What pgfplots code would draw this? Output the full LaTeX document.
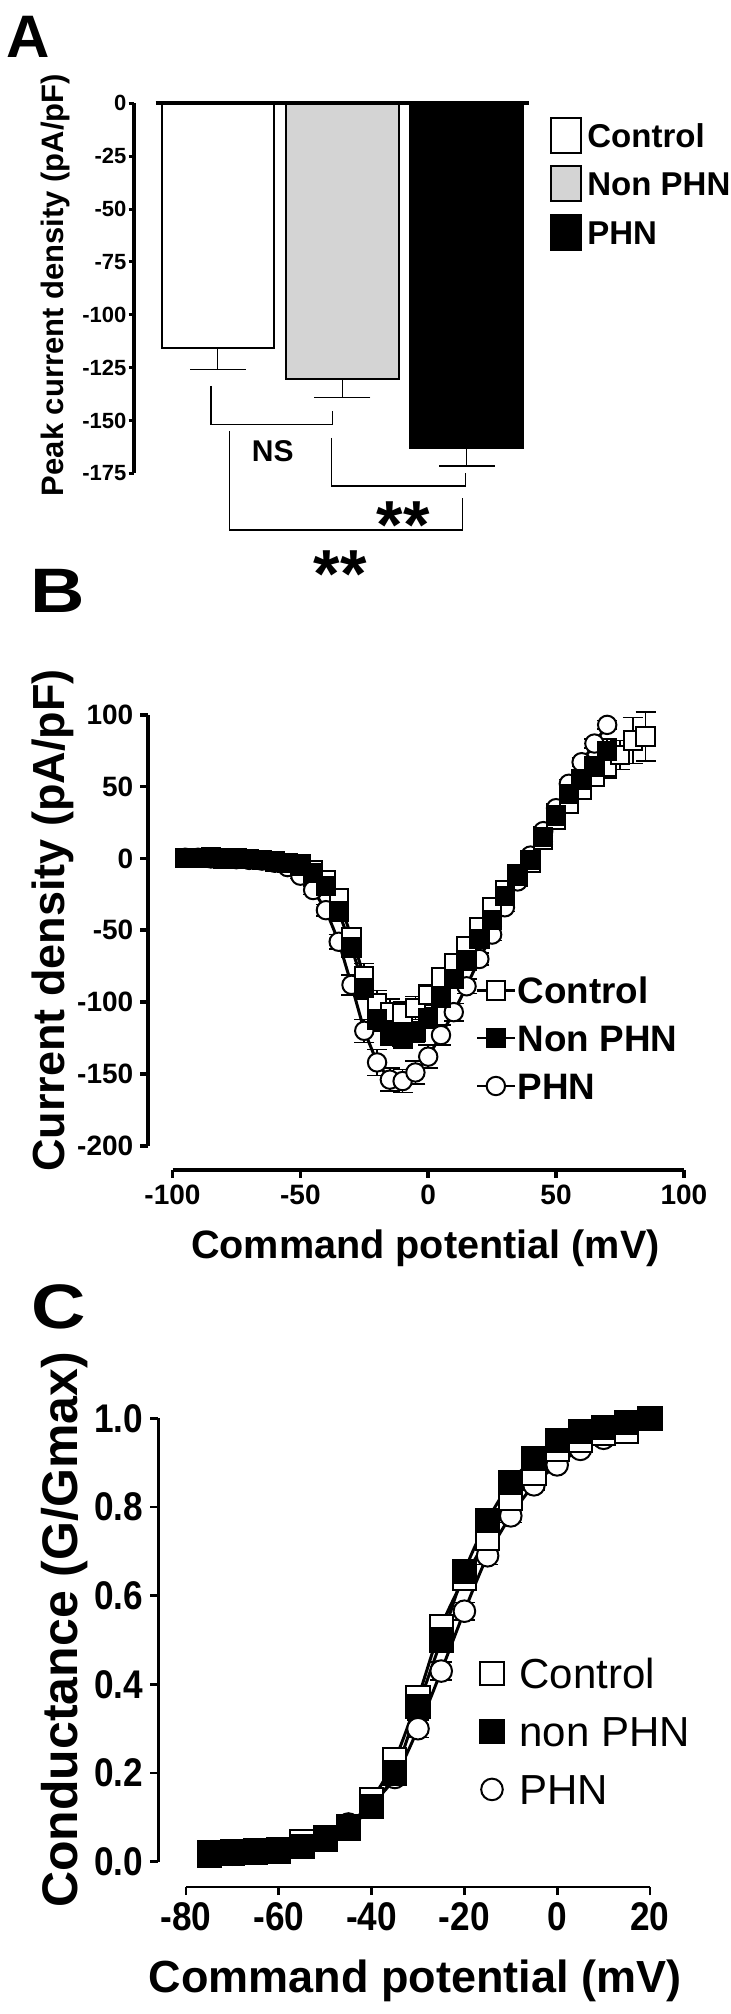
\documentclass[border=0pt]{standalone}
\usepackage{fontspec}
\setmainfont{Liberation Sans}
\newfontfamily\narrowfont[FakeStretch=0.88]{Liberation Sans}
\usepackage{pgfplots}
\usepackage{pgfplotstable}
\pgfplotsset{compat=1.18}
\newcommand{\fs}[1]{\fontsize{#1}{#1}\selectfont}

\pgfplotstableread{
v ctl ectl non enon phn ephn
-95 0.5 2 0.5 2 0.5 2
-90 0.5 2 0.5 2 0.5 2
-85 1 2 0.5 2 0 2
-80 0.5 2 0 2 0 2
-75 0 2 0 2 -0.5 2
-70 -0.5 2 -0.5 2 -1 2
-65 -1 2 -1 2 -1.5 2
-60 -2 2 -2 2 -3 2
-55 -3 2 -3 2 -6 2
-50 -4 2 -5 2 -12 2
-45 -8 3 -10 3 -22 3
-40 -15 4 -19 4 -36 4
-35 -28 5 -37 5 -58 5
-30 -55 7 -62 7 -88 7
-25 -82 9 -90 8 -120 8
-20 -101 9 -112 8 -142 9
-15 -107 9 -122 8 -154 8
-10 -108 8 -124 8 -155 8
-5 -104 8 -121 7 -149 8
0 -95 7 -111 7 -138 8
5 -83 7 -97 6 -123 7
10 -73 6 -84 6 -107 6
15 -61 5 -71 5 -89 5
20 -48 5 -56 4 -70 4
25 -34 4 -43 4 -53 4
30 -22 4 -26 4 -34 3
35 -11 3 -12 3 -16 3
40 -3 3 -1 3 2 3
45 13 3 15 3 19 3
50 27 3 30 3 35 3
55 38 4 45 4 52 3
60 48 5 55 4 67 3
65 57 6 64 5 80 3
70 64 8 75 8 93 3
75 72 10 nan nan nan nan
80 82 16 nan nan nan nan
85 85 17 nan nan nan nan
}\Bdata

\pgfplotstableread{
v ctl ectl non enon phn ephn
-75 0.020 0.004 0.015 0.004 0.015 0.004
-70 0.022 0.004 0.018 0.004 0.017 0.004
-65 0.025 0.004 0.020 0.004 0.020 0.004
-60 0.028 0.004 0.024 0.004 0.025 0.004
-55 0.045 0.005 0.035 0.005 0.035 0.005
-50 0.055 0.006 0.050 0.006 0.050 0.006
-45 0.080 0.008 0.075 0.008 0.085 0.008
-40 0.140 0.012 0.125 0.012 0.130 0.012
-35 0.230 0.020 0.200 0.020 0.190 0.015
-30 0.370 0.025 0.350 0.025 0.300 0.020
-25 0.530 0.025 0.500 0.025 0.430 0.020
-20 0.640 0.025 0.655 0.025 0.565 0.020
-15 0.730 0.025 0.770 0.025 0.690 0.020
-10 0.820 0.020 0.855 0.020 0.780 0.015
-5 0.875 0.015 0.910 0.015 0.850 0.012
0 0.930 0.010 0.950 0.010 0.895 0.010
5 0.950 0.008 0.970 0.008 0.930 0.008
10 0.965 0.006 0.980 0.006 0.955 0.006
15 0.970 0.005 0.990 0.005 0.975 0.005
20 1.000 0.004 1.000 0.004 1.000 0.004
}\Cdata

\begin{document}
\begin{tikzpicture}
\fill[white] (0pt,0pt) rectangle (365pt,-1007pt);
\useasboundingbox (0pt,0pt) rectangle (365pt,-1007pt);

% ---------------- Panel A ----------------
\begin{axis}[
  at={(77.85pt,-236.65pt)}, anchor=south west,
  scale only axis, width=186.55pt, height=185pt,
  xmin=-0.5, xmax=2.5, ymin=-175, ymax=0,
  axis x line=none, axis y line=left, axis y line shift=11pt,
  axis line style={-, line width=2pt},
  xtick=\empty, ytick={0,-25,-50,-75,-100,-125,-150,-175},
  tick align=outside, major tick length=2.5pt,
  tick style={line width=1.5pt, black},
  /pgf/number format/assume math mode=true,
  yticklabel style={font=\bfseries\fs{11pt}, inner sep=1pt},
  clip=false,
  legend image code/.code={\draw[#1, line width=1pt] (0pt,-8.75pt) rectangle (15pt,8.75pt);},
  legend cell align=left,
  legend style={at={(1.0568,0.9643)}, anchor=north west, draw=none, fill=none,
    inner sep=0pt, row sep=5.75pt, column sep=2pt,
    font=\bfseries\fs{16.5pt},
    nodes={inner sep=0.5pt, text height=11.8pt, text depth=0pt}},
]
\addplot[ybar, bar width=0.905, bar shift=0pt, draw=black, fill=white, line width=1pt, forget plot,
  error bars/.cd, y dir=minus, y explicit,
  error bar style={line width=0.6pt, black},
  error mark options={rotate=90, line width=0.6pt, black, mark size=14pt}]
  coordinates {(0,-115.5) +- (0,10.5)};
\addplot[ybar, bar width=0.905, bar shift=0pt, draw=black, fill=black!17, line width=1pt, forget plot,
  error bars/.cd, y dir=minus, y explicit,
  error bar style={line width=0.6pt, black},
  error mark options={rotate=90, line width=0.6pt, black, mark size=14pt}]
  coordinates {(1,-130.5) +- (0,8.7)};
\addplot[ybar, bar width=0.905, bar shift=0pt, draw=black, fill=black, line width=1pt, forget plot,
  error bars/.cd, y dir=minus, y explicit,
  error bar style={line width=0.6pt, black},
  error mark options={rotate=90, line width=0.6pt, black, mark size=14pt}]
  coordinates {(2,-163) +- (0,8.5)};
\addplot[black, line width=2pt, forget plot] coordinates {(-0.5,0) (2.5,0)};
% significance brackets
\addplot[black, line width=0.8pt, forget plot] coordinates {(-0.054,-133.7) (-0.054,-152) (0.921,-152) (0.921,-145.3)};
\addplot[black, line width=0.8pt, forget plot] coordinates {(0.914,-158.2) (0.914,-181) (1.990,-181) (1.990,-174.8)};
\addplot[black, line width=0.8pt, forget plot] coordinates {(0.092,-154.9) (0.092,-201.7) (1.967,-201.7) (1.967,-186.8)};
\node[font=\bfseries\fs{15pt}, anchor=base, inner sep=0pt] at (axis cs:0.441,-169.6) {NS};
\node[font=\bfseries\fs{34pt}, anchor=base, inner sep=0pt] at (axis cs:1.491,-210.6) {**};
\node[font=\bfseries\fs{34pt}, anchor=base, inner sep=0pt] at (axis cs:0.984,-233.7) {**};
\addlegendimage{draw=black, fill=white}
\addlegendentry{Control}
\addlegendimage{draw=black, fill=black!17}
\addlegendentry{Non PHN}
\addlegendimage{draw=black, fill=black}
\addlegendentry{PHN}
\end{axis}

% ---------------- Panel B ----------------
\begin{axis}[
  at={(86.25pt,-572.85pt)}, anchor=south west,
  scale only axis, width=255.7pt, height=215.45pt,
  xmin=-100, xmax=100, ymin=-200, ymax=100,
  axis lines=left, axis x line shift=12pt, axis y line shift=12.1pt,
  axis line style={-, line width=2pt},
  xtick={-100,-50,0,50,100}, ytick={-200,-150,-100,-50,0,50,100},
  tick align=outside, major tick length=4pt,
  tick style={line width=1.8pt, black},
  /pgf/number format/assume math mode=true,
  ticklabel style={font=\bfseries\fs{14pt}},
  clip=false,
  legend image code/.code={\draw[mark repeat=2, mark phase=2, #1] plot coordinates {(0pt,0pt) (9.375pt,0pt) (18.75pt,0pt)};},
  legend cell align=left,
  legend style={at={(0.5925,0.392)}, anchor=north west, draw=none, fill=none,
    inner sep=0pt, row sep=10.7pt, column sep=1pt,
    font=\bfseries\fs{18.4pt},
    nodes={inner sep=0pt, text height=13.2pt, text depth=0pt}},
]
\addplot[black, line width=1.5pt, mark=*, mark size=4.6pt, mark options={fill=white, line width=1pt}, forget plot,
  error bars/.cd, y dir=both, y explicit,
  error bar style={line width=0.8pt, black}, error mark options={rotate=90, line width=0.8pt, black, mark size=5pt}]
  table[x=v, y=phn, y error=ephn] {\Bdata};
\addplot[black, line width=1.5pt, mark=square*, mark size=4.6pt, mark options={fill=white, line width=1pt}, forget plot,
  error bars/.cd, y dir=both, y explicit,
  error bar style={line width=0.8pt, black}, error mark options={rotate=90, line width=0.8pt, black, mark size=5pt}]
  table[x=v, y=ctl, y error=ectl] {\Bdata};
\addplot[black, line width=1.5pt, mark=square*, mark size=4.6pt, mark options={fill=black, line width=1pt}, forget plot,
  error bars/.cd, y dir=both, y explicit,
  error bar style={line width=0.8pt, black}, error mark options={rotate=90, line width=0.8pt, black, mark size=5pt}]
  table[x=v, y=non, y error=enon] {\Bdata};
\addlegendimage{black, line width=1.2pt, mark=square*, mark size=4.6pt, mark options={fill=white, line width=1pt}}
\addlegendentry{Control}
\addlegendimage{black, line width=1.2pt, mark=square*, mark size=4.6pt, mark options={fill=black, line width=1pt}}
\addlegendentry{Non PHN}
\addlegendimage{black, line width=1.2pt, mark=*, mark size=4.6pt, mark options={fill=white, line width=1pt}}
\addlegendentry{PHN}
\end{axis}

% ---------------- Panel C ----------------
\begin{axis}[
  at={(93pt,-930.85pt)}, anchor=south west,
  scale only axis, width=232pt, height=221.7pt,
  xmin=-80, xmax=20, ymin=0, ymax=1,
  axis lines=left, axis x line shift=12.65pt, axis y line shift=13.8pt,
  axis line style={-, line width=1.4pt},
  xtick={-80,-60,-40,-20,0,20}, ytick={0,0.2,0.4,0.6,0.8,1.0},
  tick align=outside, major tick length=4pt,
  tick style={line width=1.4pt, black},
  /pgf/number format/assume math mode=true,
  ticklabel style={font=\narrowfont\bfseries\fs{20pt}},
  yticklabel style={/pgf/number format/.cd, fixed, fixed zerofill, precision=1},
  clip=false,
  legend image code/.code={\draw[#1] plot coordinates {(0pt,0pt)};},
  legend cell align=left,
  legend style={at={(0.6336,0.4594)}, anchor=north west, draw=none, fill=none,
    inner sep=0pt, row sep=14pt, column sep=8pt,
    font=\fs{21pt},
    nodes={inner sep=0pt, text height=15pt, text depth=0pt}},
]
\addplot[black, line width=1.5pt, smooth, mark=*, mark size=5.4pt, mark options={fill=white, line width=1pt}, forget plot,
  error bars/.cd, y dir=both, y explicit,
  error bar style={line width=0.8pt, black}, error mark options={rotate=90, line width=0.8pt, black, mark size=5.4pt}]
  table[x=v, y=phn, y error=ephn] {\Cdata};
\addplot[black, line width=1.5pt, smooth, mark=square*, mark size=5.8pt, mark options={fill=white, line width=1pt}, forget plot,
  error bars/.cd, y dir=both, y explicit,
  error bar style={line width=0.8pt, black}, error mark options={rotate=90, line width=0.8pt, black, mark size=5.4pt}]
  table[x=v, y=ctl, y error=ectl] {\Cdata};
\addplot[black, line width=1.5pt, smooth, mark=square*, mark size=5.8pt, mark options={fill=black, line width=1pt}, forget plot,
  error bars/.cd, y dir=both, y explicit,
  error bar style={line width=0.8pt, black}, error mark options={rotate=90, line width=0.8pt, black, mark size=5.4pt}]
  table[x=v, y=non, y error=enon] {\Cdata};
\addlegendimage{only marks, mark=square*, mark size=5.8pt, mark options={fill=white, draw=black, line width=1pt}}
\addlegendentry{Control}
\addlegendimage{only marks, mark=square*, mark size=5.8pt, mark options={fill=black, draw=black, line width=1pt}}
\addlegendentry{non PHN}
\addlegendimage{only marks, mark=*, mark size=5.4pt, mark options={fill=white, draw=black, line width=1pt}}
\addlegendentry{PHN}
\end{axis}

% ---------------- panel letters and axis titles ----------------
\node[font=\bfseries\fs{30pt}, anchor=base west, inner sep=0pt] at (3pt,-28.6pt) {A};
\node[font=\bfseries\fs{31.4pt}, anchor=base west, inner sep=0pt, xscale=1.2] at (15pt,-306.25pt) {B};
\node[font=\bfseries\fs{31.4pt}, anchor=base west, inner sep=0pt, xscale=1.2] at (15.5pt,-664pt) {C};

\node[font=\bfseries\fs{15.5pt}, rotate=90, inner sep=0pt] at (27.5pt,-142.5pt) {Peak current density (pA/pF)};
\node[font=\bfseries\fs{22.5pt}, rotate=90, inner sep=0pt] at (26.25pt,-460.2pt) {Current density (pA/pF)};
\node[font=\bfseries\fs{19.8pt}, anchor=base, inner sep=0pt] at (212.7pt,-629.2pt) {Command potential (mV)};
\node[font=\bfseries\fs{25pt}, rotate=90, inner sep=0pt] at (32.5pt,-815pt) {Conductance (G/Gmax)};
\node[font=\bfseries\fs{22.5pt}, anchor=base, inner sep=0pt] at (207.5pt,-996pt) {Command potential (mV)};
\end{tikzpicture}
\end{document}
